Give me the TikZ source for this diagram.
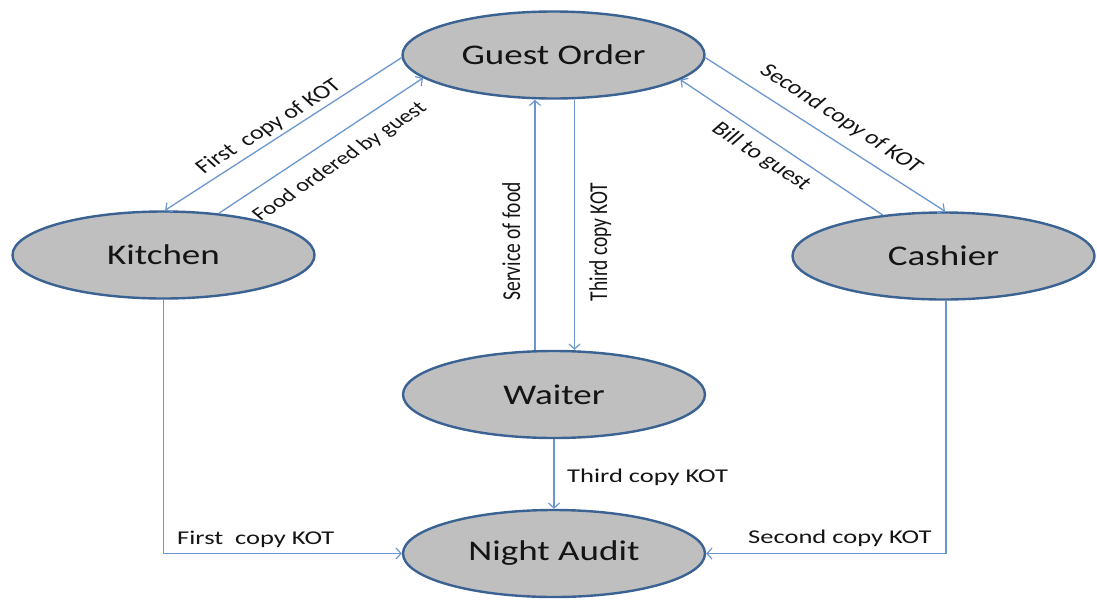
\documentclass[tikz,border=0pt]{standalone}
\usepackage{fontspec}
\setmainfont{Carlito}
\usetikzlibrary{shapes.geometric,arrows.meta}
\definecolor{nodefill}{RGB}{191,191,191}
\definecolor{nodeedge}{RGB}{58,98,146}
\definecolor{conn}{RGB}{108,150,208}
\definecolor{txt}{RGB}{20,20,20}
\begin{document}
\begin{tikzpicture}[x=1pt,y=-1pt,
  state/.style={ellipse, draw=nodeedge, line width=2.4pt, fill=nodefill,
    minimum width=302pt, minimum height=87pt, inner sep=0pt, text=txt,
    font=\fontsize{28.5}{32}\selectfont},
  flow/.style={draw=conn, line width=1.3pt,
    -{Straight Barb[length=5pt,width=11pt,line width=1.2pt]}},
  lab/.style={text=txt, font=\fontsize{19.5}{22}\selectfont, inner sep=0pt},
]
\useasboundingbox (0,0) rectangle (1097,600);

% states
\node[state] (go) at (553.5,55)  {\scalebox{1.3}[1]{Guest Order}};
\node[state] (k)  at (163.5,255) {\scalebox{1.3}[1]{Kitchen}};
\node[state] (ca) at (943.5,256) {\scalebox{1.3}[1]{Cashier}};
\node[state] (w)  at (554,394.5) {\scalebox{1.3}[1]{Waiter}};
\node[state] (na) at (554,553.5) {\scalebox{1.3}[1]{Night Audit}};

% connectors
\draw[flow] (go.181) -- (k.88);
\draw[flow] (k.37) -- (go.190);
\draw[flow] (go.-1) -- (ca.88);
\draw[flow] (ca.146) -- (go.-11);
\draw[flow] ([xshift=-19pt]w.north) -- ([xshift=-19pt]w.north |- go.south);
\draw[flow] ([xshift=21pt]go.south) -- ([xshift=21pt]go.south |- w.north);
\draw[flow] (w.south) -- (na.north);
\draw[flow] (k.south) |- (na.west);
\draw[flow] ([xshift=2.5pt]ca.south) |- (na.east);

% diagonal labels
\begin{scope}[shift={(269,127)}, xscale=1.32]
  \node[lab, rotate=39.5, transform shape] (l1) at (0,0) {First\ \ copy of KOT};
\end{scope}
\begin{scope}[shift={(340,162)}, xscale=1.32]
  \node[lab, rotate=41.5, transform shape, font=\fontsize{18.5}{22}\selectfont] (l2) at (0,0) {Food ordered by guest};
\end{scope}
\begin{scope}[shift={(841,119)}, xscale=1.32]
  \node[lab, rotate=-40.6, transform shape] (l3) at (0,0) {Second copy of KOT};
\end{scope}
\begin{scope}[shift={(761,157)}, xscale=1.32]
  \node[lab, rotate=-40.6, transform shape] (l4) at (0,0) {Bill to guest};
\end{scope}

% vertical labels
\node[lab, rotate=90, anchor=base] (l5) at (520,241.5) {\scalebox{1}[1.32]{Service of food}};
\node[lab, rotate=90, anchor=base] (l6) at (607,242) {\scalebox{1}[1.32]{Third copy KOT}};

% horizontal labels
\node[lab, anchor=base west] (l7) at (567,482) {\scalebox{1.36}[1]{Third copy KOT}};
\node[lab, anchor=base west] (l8) at (177,544) {\scalebox{1.36}[1]{First\ \ copy KOT}};
\node[lab, anchor=base west] (l9) at (748,543) {\scalebox{1.36}[1]{Second copy KOT}};
\end{tikzpicture}
\end{document}
